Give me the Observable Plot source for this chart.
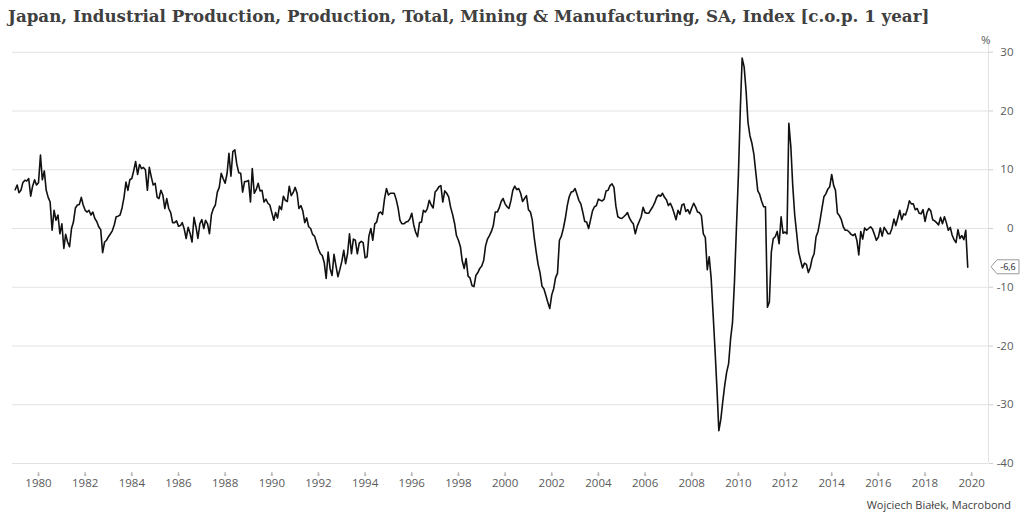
<!DOCTYPE html>
<html><head><meta charset="utf-8">
<script src="https://cdn.jsdelivr.net/npm/d3@7"></script>
<script src="https://cdn.jsdelivr.net/npm/@observablehq/plot@0.6"></script>
<style>
html,body{margin:0;padding:0;background:#fff;width:1024px;height:520px;overflow:hidden}
#title{height:32px;line-height:32px;padding-left:8px;font-family:"DejaVu Serif",serif;font-weight:bold;font-size:16px;color:#404040;white-space:nowrap}
#chart svg{display:block}
#caption{height:28px;text-align:right;padding-right:13px;font-family:"Open Sans",sans-serif;font-size:11px;color:#404040;line-height:26px}
</style></head><body>
<div id="title">Japan, Industrial Production, Production, Total, Mining &amp; Manufacturing, SA, Index [c.o.p. 1 year]</div>
<div id="chart"></div>
<div id="caption">Wojciech Białek, Macrobond</div>
<script>
// Monthly y/y % change, starting January 1979
const startYear = 1979;
const ipYoY = [
  6.6, 7.4, 6.1, 6.5, 7.8, 8.2, 8.1, 8.5, 5.5, 7.2, 8.3, 7.4,          // 1979
  7.8, 12.5, 8.3, 9.8, 6.5, 5.3, 4.5, -0.3, 3.1, 1.4, 2.3, -0.9,       // 1980
  0.8, -3.4, -1.0, -2.3, -3.1, 0.0, 1.1, 3.5, 4.0, 4.1, 5.3, 4.0,      // 1981
  3.1, 2.8, 3.1, 2.3, 2.8, 1.7, 1.2, 0.3, -0.2, -4.1, -2.3, -2.0,      // 1982
  -1.4, -0.9, -0.4, 0.6, 2.0, 2.1, 2.3, 3.5, 5.3, 7.9, 6.5, 8.3,       // 1983
  8.5, 9.9, 11.4, 9.2, 10.9, 10.2, 10.4, 10.0, 6.5, 10.4, 8.8, 7.4,    // 1984
  7.7, 5.3, 5.1, 6.5, 5.7, 3.4, 5.1, 3.4, 2.7, 1.0, 1.0, 1.3,          // 1985
  0.4, 0.5, 1.0, -0.1, -1.7, 0.2, -0.8, -2.3, 1.9, 0.3, -1.7, 0.8,     // 1986
  1.5, 0.0, 1.4, 0.8, -0.9, 2.4, 3.4, 4.0, 6.2, 7.0, 9.4, 8.5,         // 1987
  7.7, 9.4, 12.8, 8.9, 13.1, 13.4, 11.0, 9.5, 9.4, 6.2, 8.0, 8.0,      // 1988
  8.2, 4.5, 10.2, 6.0, 6.6, 7.7, 6.4, 6.5, 4.5, 5.0, 4.3, 4.0,         // 1989
  2.7, 1.4, 2.7, 1.8, 3.8, 3.2, 5.5, 4.8, 4.6, 7.2, 5.6, 6.1,          // 1990
  7.0, 6.0, 3.4, 3.9, 3.0, 1.0, 1.8, 0.3, 0.0, -1.0, -1.3, -2.4,       // 1991
  -3.5, -4.3, -4.6, -5.8, -8.5, -4.0, -6.8, -8.0, -4.4, -6.3, -8.2, -7.0, // 1992
  -5.6, -3.7, -6.0, -4.3, -0.9, -4.3, -1.8, -2.0, -4.3, -2.5, -2.2, -2.4, // 1993
  -5.0, -4.8, -1.3, 0.0, -2.0, 0.8, 1.1, 2.6, 2.8, 2.4, 5.1, 6.8,      // 1994
  5.7, 6.0, 6.0, 6.0, 5.0, 3.5, 1.4, 0.8, 0.8, 1.1, 1.2, 1.6,          // 1995
  2.6, 0.6, -0.6, -1.4, 1.0, 1.1, 3.1, 2.8, 3.4, 4.8, 4.0, 3.5,        // 1996
  6.2, 6.6, 7.1, 7.3, 4.5, 6.4, 6.0, 5.4, 3.6, 2.4, 0.9, -1.2,         // 1997
  -2.0, -3.1, -5.5, -6.8, -5.1, -8.1, -8.4, -9.7, -9.9, -8.0, -7.5, -6.8, // 1998
  -6.4, -5.4, -3.0, -1.8, -1.2, -0.5, 0.5, 2.8, 2.8, 3.5, 4.6, 5.1,    // 1999
  4.2, 3.7, 3.4, 4.7, 6.5, 7.2, 6.6, 6.8, 6.0, 4.6, 5.1, 5.6,          // 2000
  3.2, 2.8, 1.5, -1.5, -3.9, -6.1, -7.5, -9.8, -10.3, -11.4, -12.6, -13.6, // 2001
  -11.3, -10.2, -8.4, -7.6, -2.0, -1.3, 0.0, 1.7, 3.9, 5.4, 6.2, 6.3,  // 2002
  6.8, 5.8, 4.8, 4.2, 2.8, 1.2, 1.1, 0.0, 1.5, 3.0, 3.7, 3.9,          // 2003
  5.0, 4.8, 4.7, 5.0, 6.4, 6.5, 7.3, 7.6, 7.0, 3.8, 2.0, 1.8,          // 2004
  1.7, 2.0, 2.3, 2.7, 1.8, 1.2, 0.8, -0.9, 0.4, 1.2, 2.0, 3.6,         // 2005
  2.7, 2.6, 2.6, 3.2, 3.7, 4.4, 5.3, 5.7, 5.5, 6.0, 5.3, 4.9,          // 2006
  3.9, 4.3, 3.6, 2.6, 1.5, 3.1, 2.4, 4.0, 4.2, 2.9, 3.2, 2.5,          // 2007
  3.5, 4.3, 3.7, 2.8, 2.7, 2.2, -0.9, -1.5, -7.0, -4.8, -8.5, -14.5,   // 2008
  -20.8, -27.6, -34.4, -32.5, -29.5, -26.7, -24.5, -23.0, -18.8, -16.0, -9.0, 0.0, // 2009
  9.0, 20.5, 29.0, 27.5, 23.5, 18.0, 15.8, 14.5, 12.6, 9.5, 6.4, 5.8,  // 2010
  4.6, 3.7, 3.7, -13.4, -12.5, -4.0, -1.7, -1.4, -0.5, -2.6, 2.0, -0.8, // 2011
  -0.6, -0.9, 17.9, 14.0, 7.3, 2.3, -0.8, -4.0, -5.4, -6.7, -5.9, -6.1, // 2012
  -7.5, -6.6, -5.1, -4.3, -1.4, -0.5, 1.3, 3.4, 5.4, 5.9, 6.7, 7.1,    // 2013
  9.2, 7.3, 6.5, 2.6, 2.2, 1.5, 0.3, -0.3, -0.3, -0.6, -1.0, -1.2,     // 2014
  -0.9, -2.1, -4.5, -0.5, -1.8, 0.1, -0.3, 0.0, 0.3, -0.1, -1.0, -2.0, // 2015
  -1.5, 0.1, -1.3, 0.2, -0.3, -0.9, -0.9, 0.0, 1.6, 0.5, 1.8, 3.1,     // 2016
  1.5, 2.5, 2.3, 3.3, 4.7, 4.2, 4.2, 3.2, 3.4, 2.6, 2.5, 3.2,          // 2017
  1.2, 2.7, 3.4, 3.0, 1.5, 1.3, 1.0, 0.6, 1.9, 0.8, 2.0, 1.0,          // 2018
  -0.3, 0.2, -1.1, -1.9, -2.4, -0.2, -1.7, -1.2, -1.9, -0.3, -6.6      // 2019
];
const xTickYears = d3.range(1980, 2021, 2);
const yTicks = [-40, -30, -20, -10, 0, 10, 20, 30];
const xDomain = [new Date(Date.UTC(1978, 10, 20)), new Date(Date.UTC(2020, 8, 21))];
const yDomain = [-40, 32];

const data = ipYoY.map((v, i) => ({date: new Date(Date.UTC(startYear, i, 1)), value: v}));
const last = data[data.length - 1];
const xTickDates = xTickYears.map(y => new Date(Date.UTC(y, 0, 1)));

// fit title width
(function(){
  const el = document.getElementById("title");
  const c = document.createElement("canvas").getContext("2d");
  c.font = "bold 16px 'DejaVu Serif'";
  const w = c.measureText(el.textContent).width;
  el.style.fontSize = (16 * 922 / w).toFixed(2) + "px";
})();

const W = 1024, H = 460, mL = 12, mR = 36, mT = 8, mB = 29;
const chart = Plot.plot({
  width: W, height: H,
  marginLeft: mL, marginRight: mR, marginTop: mT, marginBottom: mB,
  style: {fontFamily: "'Open Sans', sans-serif", fontSize: "11.5px", color: "#5a5a5a", background: "#fff", overflow: "visible"},
  x: {type: "utc", domain: xDomain, axis: null, label: null},
  y: {domain: yDomain, axis: null, label: null},
  marks: [
    Plot.gridY(yTicks, {stroke: "#e2e2e2", strokeOpacity: 1}),
    Plot.ruleX([xDomain[1]], {stroke: "#e2e2e2"}),
    Plot.axisY(yTicks, {anchor: "right", label: null, tickSize: 4, tickPadding: 21, textAnchor: "end", tickFormat: d => String(d), stroke: "#cfcfcf", fill: "#5a5a5a"}),
    Plot.axisX(xTickDates, {anchor: "bottom", label: null, tickSize: 0, tickPadding: 15, tickFormat: d3.utcFormat("%Y"), fill: "#5a5a5a"}),
    Plot.vector(xTickDates, {x: d => d, frameAnchor: "bottom", length: 3, rotate: 180, anchor: "start", dy: 9, stroke: "#bdbdbd"}),
    Plot.text(["%"], {frameAnchor: "top-right", dx: 2, dy: -5, fill: "#5a5a5a"}),
    Plot.lineY(data, {x: "date", y: "value", stroke: "#111", strokeWidth: 1.6})
  ]
});
document.getElementById("chart").appendChild(chart);

// end-value callout at the right axis
const yy = chart.scale("y").apply(last.value);
const x0 = W - mR;
const svg = d3.select(chart);
const g = svg.append("g");
g.append("path")
  .attr("d", `M${x0 + 3},${yy} L${x0 + 9},${yy - 7} H${x0 + 31} V${yy + 7} H${x0 + 9} Z`)
  .attr("fill", "#fff").attr("stroke", "#9a9a9a").attr("stroke-width", 1);
g.append("text")
  .attr("x", x0 + 20).attr("y", yy).attr("dy", "0.35em")
  .attr("text-anchor", "middle")
  .attr("font-size", 9).attr("fill", "#222")
  .attr("font-family", "'Open Sans', sans-serif")
  .text(String(last.value).replace(".", ","));
</script>
</body></html>
